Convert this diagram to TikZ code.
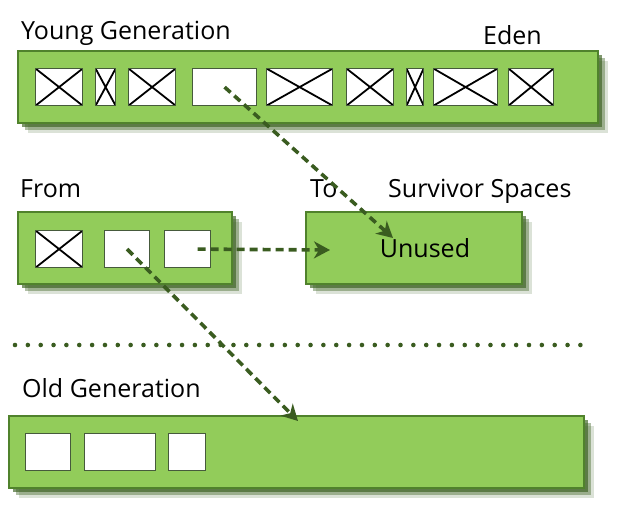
\documentclass[tikz,border=0pt]{standalone}
\usepackage{fontspec}
\setmainfont{Open Sans}
\usetikzlibrary{shadows,arrows.meta}
\definecolor{heapfill}{RGB}{146,204,90}
\definecolor{heapedge}{RGB}{80,130,44}
\definecolor{heapshade}{RGB}{58,96,32}
\definecolor{movegreen}{RGB}{58,92,32}
\definecolor{objedge}{RGB}{70,90,60}
\tikzset{
  space/.style={draw=heapedge, fill=heapfill, line width=1.8pt, anchor=north west,
    minimum height=72pt, inner sep=0pt,
    drop shadow={shadow xshift=10pt, shadow yshift=-10pt, fill=heapshade, opacity=.18},
    drop shadow={shadow xshift=7pt, shadow yshift=-7pt, fill=heapshade, opacity=.4},
    drop shadow={shadow xshift=4pt, shadow yshift=-4pt, fill=heapshade, opacity=.65}},
  live/.style={draw=objedge, fill=white, line width=1.2pt, anchor=north west,
    minimum height=37pt, inner sep=0pt},
  dead/.style={live, path picture={
    \draw[black, line width=1.8pt]
      (path picture bounding box.north west) -- (path picture bounding box.south east)
      (path picture bounding box.south west) -- (path picture bounding box.north east);}},
  lbl/.style={font=\fontsize{25}{30}\selectfont, anchor=base west, inner sep=0pt},
  move/.style={draw=movegreen, line width=3.6pt, dash pattern=on 8pt off 5pt,
    -{Stealth[length=16pt, width=17pt, inset=5pt]}},
  sep/.style={draw=movegreen, line width=4.6pt, line cap=round, dash pattern=on 0pt off 12.85pt}
}
\begin{document}
\begin{tikzpicture}[x=1pt,y=-1pt]
\useasboundingbox (0,0) rectangle (622,524);
% heap areas
\node[space, minimum width=580pt] (young) at (17,50) {};
\node[space, minimum width=214pt] (from) at (17,211) {};
\node[space, minimum width=216pt] (to) at (305,211) {};
\node[space, minimum width=575pt] (old) at (8,415) {};
% objects
\foreach \x/\w/\k [count=\i] in {35/47/dead,95/20/dead,128/47/dead,192/64/live,266/66/dead,
    346/47/dead,406/17/dead,433/64/dead,508/45/dead}
  \node[\k, minimum width=\w pt] (e\i) at (\x,68) {};
\foreach \x/\w/\k [count=\i] in {35/47/dead,104/45/live,164/46/live}
  \node[\k, minimum width=\w pt] (f\i) at (\x,230) {};
\foreach \x/\w [count=\i] in {25/45,84/71,168/37}
  \node[live, minimum width=\w pt] (o\i) at (\x,433) {};
% labels
\node[lbl] (younglbl) at (21,40) {Young Generation};
\node[lbl] (edenlbl) at (483,45) {Eden};
\node[lbl] (fromlbl) at (20,198) {From};
\node[lbl] (tolbl) at (310,198) {To};
\node[lbl] (survlbl) at (388,198) {Survivor Spaces};
\node[lbl] (oldlbl) at (22,397) {Old Generation};
\node[font=\fontsize{25}{30}\selectfont] (unused) at (425,248) {Unused};
% young / old boundary
\coordinate (sepl) at (15,345);
\coordinate (sepr) at (592,345);
\draw[sep] (sepl) -- (sepr);
% copies
\coordinate (tohit) at (393,238);
\coordinate (tomid) at (330,250);
\coordinate (oldhit) at (298,421);
\draw[move] (e4.center) -- (tohit);
\draw[move] ([xshift=10pt]f3.center) -- (tomid);
\draw[move] (f2.center) -- (oldhit);
\end{tikzpicture}
\end{document}
